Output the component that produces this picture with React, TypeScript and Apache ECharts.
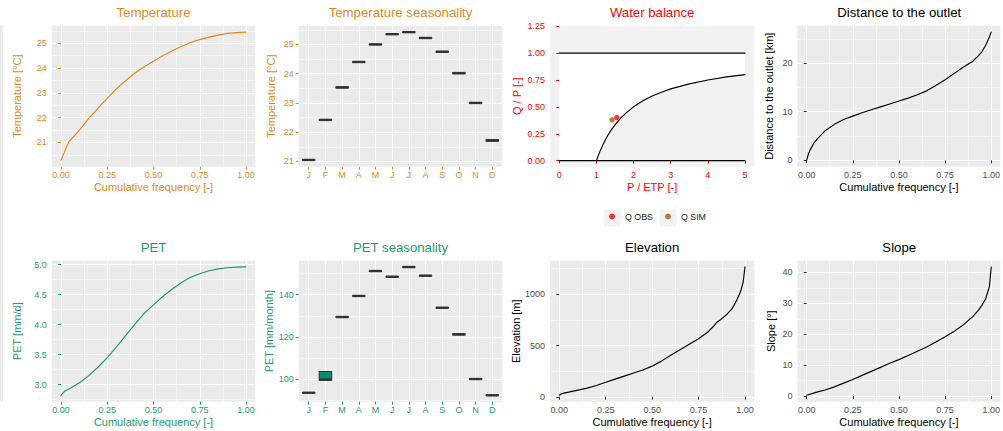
import React, { useEffect, useRef } from "react";
import * as echarts from "echarts";

// ---------------- data ----------------
const months = ["J", "F", "M", "A", "M", "J", "J", "A", "S", "O", "N", "D"];
const monthPos = [1, 2, 3, 4, 5, 6, 7, 8, 9, 10, 11, 12];

const freqTicks = [0, 0.25, 0.5, 0.75, 1];
const freqMinor = [0.125, 0.375, 0.625, 0.875];

// Temperature CDF
const tempFreq = [0, 0.04, 0.1, 0.15, 0.2, 0.25, 0.3, 0.35, 0.4, 0.45, 0.5, 0.55, 0.6, 0.65, 0.7, 0.75, 0.8, 0.85, 0.9, 0.95, 1.0];
const tempVal = [20.28, 21.0, 21.5, 21.97, 22.38, 22.78, 23.17, 23.5, 23.8, 24.05, 24.28, 24.5, 24.69, 24.87, 25.03, 25.15, 25.25, 25.33, 25.4, 25.43, 25.45];
const tempTicks = [21, 22, 23, 24, 25];
const tempMinor = [20.5, 21.5, 22.5, 23.5, 24.5, 25.5];

// Temperature seasonality
const tempMonthLow = [21.04, 22.41, 23.51, 24.39, 24.99, 25.34, 25.41, 25.21, 24.74, 24.0, 22.99, 21.69];
const tempMonthMed = [21.05, 22.42, 23.53, 24.4, 25.0, 25.35, 25.42, 25.22, 24.75, 24.02, 23.0, 21.72];
const tempMonthHigh = [21.06, 22.43, 23.55, 24.41, 25.01, 25.36, 25.43, 25.23, 24.76, 24.04, 23.01, 21.75];
const tempSeasonMinor = [21.5, 22.5, 23.5, 24.5, 25.5];

// Water balance
const wbXTicks = [0, 1, 2, 3, 4, 5];
const wbYTicks = [0, 0.25, 0.5, 0.75, 1.0, 1.25];
const budykoX = [1, 1.05, 1.1, 1.2, 1.3, 1.4, 1.5, 1.65, 1.8, 2, 2.25, 2.5, 2.75, 3, 3.5, 4, 4.5, 5];
const budykoY = [0, 0.048, 0.091, 0.167, 0.231, 0.286, 0.333, 0.394, 0.444, 0.5, 0.556, 0.6, 0.636, 0.667, 0.714, 0.75, 0.778, 0.8];
const limitX = [0, 5];
const limitLow = [0, 0];
const limitHigh = [1, 1];
const qObs = [1.55, 0.4];
const qSim = [1.42, 0.38];

// Distance to the outlet
const distFreq = [0, 0.01, 0.02, 0.04, 0.06, 0.08, 0.1, 0.15, 0.2, 0.25, 0.3, 0.35, 0.4, 0.45, 0.5, 0.55, 0.6, 0.65, 0.7, 0.75, 0.8, 0.85, 0.9, 0.93, 0.95, 0.97, 0.99, 1.0];
const distVal = [0, 1.4, 2.2, 3.6, 4.5, 5.3, 6.1, 7.4, 8.4, 9.1, 9.8, 10.4, 11.0, 11.6, 12.2, 12.8, 13.5, 14.3, 15.4, 16.6, 17.9, 19.2, 20.4, 21.5, 22.4, 23.7, 25.4, 26.4];
const distTicks = [0, 10, 20];
const distMinor = [5, 15, 25];

// PET CDF
const petFreq = [0, 0.02, 0.05, 0.1, 0.15, 0.2, 0.25, 0.3, 0.35, 0.4, 0.45, 0.5, 0.55, 0.6, 0.65, 0.7, 0.75, 0.8, 0.85, 0.9, 0.95, 1.0];
const petVal = [2.82, 2.89, 2.94, 3.03, 3.15, 3.29, 3.45, 3.63, 3.82, 4.01, 4.19, 4.33, 4.47, 4.59, 4.7, 4.79, 4.85, 4.9, 4.93, 4.95, 4.96, 4.965];
const petTicks = [3, 3.5, 4, 4.5, 5];
const petMinor = [2.75, 3.25, 3.75, 4.25, 4.75];

// PET seasonality
const petMonthLow = [93.4, 99.4, 129.3, 139.3, 151.1, 148.4, 153.0, 148.9, 133.7, 120.9, 99.9, 92.2];
const petMonthMed = [93.5, 99.7, 129.4, 139.4, 151.2, 148.5, 153.1, 149.0, 133.8, 121.2, 100.0, 92.3];
const petMonthHigh = [93.6, 103.6, 129.5, 139.5, 151.3, 148.6, 153.2, 149.1, 133.9, 121.5, 100.1, 92.4];
const petSeasonTicks = [100, 120, 140];
const petSeasonMinor = [90, 110, 130, 150];

// Elevation
const elevFreq = [0, 0.01, 0.03, 0.05, 0.1, 0.15, 0.2, 0.25, 0.3, 0.35, 0.4, 0.45, 0.5, 0.55, 0.6, 0.65, 0.7, 0.75, 0.8, 0.83, 0.85, 0.87, 0.9, 0.93, 0.95, 0.97, 0.98, 0.99, 1.0];
const elevVal = [15, 28, 38, 45, 65, 85, 110, 142, 172, 202, 232, 262, 299, 348, 405, 458, 512, 566, 632, 688, 730, 755, 800, 860, 922, 1000, 1050, 1120, 1268];
const elevTicks = [0, 500, 1000];
const elevMinor = [250, 750, 1250];

// Slope
const slopeFreq = [0, 0.05, 0.1, 0.15, 0.2, 0.25, 0.3, 0.35, 0.4, 0.45, 0.5, 0.55, 0.6, 0.65, 0.7, 0.75, 0.8, 0.85, 0.9, 0.93, 0.95, 0.97, 0.98, 0.99, 1.0];
const slopeVal = [0.3, 1.2, 2.0, 3.0, 4.2, 5.4, 6.7, 8.0, 9.3, 10.6, 11.8, 13.1, 14.5, 15.9, 17.5, 19.2, 21.0, 23.1, 25.7, 27.7, 29.4, 31.5, 33.5, 35.3, 41.7];
const slopeTicks = [0, 10, 20, 30, 40];
const slopeMinor = [5, 15, 25, 35];

// ---------------- styling ----------------
const FONT = '"Liberation Sans", Arial, Helvetica, sans-serif';
const ORANGE = "#E5861A";
const GREEN = "#1B9A73";
const RED = "#FF0000";
const SIMCOL = "#A85C0A";
const GREY_LAB = "#4D4D4D";
const BLACK = "#000000";
const PANEL = "#EBEBEB";

const zip = (xs: number[], ys: number[]) => xs.map((x, i) => [x, ys[i]]);

const fmtFixed = (d: number) => (v: number) => Number(v).toFixed(d);
const fmtMonth = (v: number) => months[Math.round(v) - 1] ?? "";

type G = { left: number; top: number; width: number; height: number };
const grids: G[] = [
  { left: 51.75, top: 25.7, width: 203.5, height: 141 },
  { left: 298.7, top: 25.7, width: 203.6, height: 141 },
  { left: 550.0, top: 25.7, width: 204.3, height: 141 },
  { left: 797.45, top: 25.7, width: 203.5, height: 141 },
  { left: 51.75, top: 260.7, width: 203.5, height: 141 },
  { left: 298.7, top: 260.7, width: 203.6, height: 141 },
  { left: 550.0, top: 260.7, width: 204.3, height: 141 },
  { left: 797.45, top: 260.7, width: 203.5, height: 141 },
];

function mainAxis(
  dim: "x" | "y",
  gridIndex: number,
  min: number,
  max: number,
  ticks: number[],
  fmt: (v: number) => string,
  labColor: string,
  tickColor: string,
  name: string,
  nameColor: string,
  nameGap: number,
  split: boolean
) {
  return {
    type: "value",
    gridIndex,
    min,
    max,
    position: dim === "x" ? "bottom" : "left",
    axisLine: { show: false },
    axisTick: { show: true, length: 3, customValues: ticks, lineStyle: { color: tickColor, width: 1 } },
    axisLabel: {
      show: true,
      customValues: ticks,
      formatter: fmt,
      color: labColor,
      fontSize: 9,
      fontFamily: FONT,
      margin: dim === "x" ? 4 : 5,
    },
    splitLine: { show: split, lineStyle: { color: "#FFFFFF", width: 1.1 } },
    name,
    nameLocation: "middle",
    nameGap,
    nameTextStyle: { color: nameColor, fontSize: 11, fontFamily: FONT },
  };
}

function minorAxis(dim: "x" | "y", gridIndex: number, min: number, max: number, ticks: number[]) {
  return {
    type: "value",
    gridIndex,
    min,
    max,
    position: dim === "x" ? "top" : "right",
    axisLine: { show: false },
    axisTick: { show: false, customValues: ticks },
    axisLabel: { show: false, customValues: ticks },
    splitLine: { show: true, lineStyle: { color: "#FFFFFF", width: 0.55 } },
  };
}

const FX = [-0.05, 1.05];
const MX = [0.4, 12.6];

const xAxes: any[] = [
  mainAxis("x", 0, FX[0], FX[1], freqTicks, fmtFixed(2), ORANGE, ORANGE, "Cumulative frequency [-]", ORANGE, 15, true),
  mainAxis("x", 1, MX[0], MX[1], monthPos, fmtMonth, ORANGE, ORANGE, "", ORANGE, 15, true),
  mainAxis("x", 2, -0.25, 5.25, wbXTicks, fmtFixed(0), RED, RED, "P / ETP [-]", RED, 15, false),
  mainAxis("x", 3, FX[0], FX[1], freqTicks, fmtFixed(2), GREY_LAB, "#333333", "Cumulative frequency [-]", BLACK, 15, true),
  mainAxis("x", 4, FX[0], FX[1], freqTicks, fmtFixed(2), GREEN, GREEN, "Cumulative frequency [-]", GREEN, 15, true),
  mainAxis("x", 5, MX[0], MX[1], monthPos, fmtMonth, GREEN, GREEN, "", GREEN, 15, true),
  mainAxis("x", 6, FX[0], FX[1], freqTicks, fmtFixed(2), GREY_LAB, "#333333", "Cumulative frequency [-]", BLACK, 15, true),
  mainAxis("x", 7, FX[0], FX[1], freqTicks, fmtFixed(2), GREY_LAB, "#333333", "Cumulative frequency [-]", BLACK, 15, true),
  minorAxis("x", 0, FX[0], FX[1], freqMinor),
  minorAxis("x", 3, FX[0], FX[1], freqMinor),
  minorAxis("x", 4, FX[0], FX[1], freqMinor),
  minorAxis("x", 6, FX[0], FX[1], freqMinor),
  minorAxis("x", 7, FX[0], FX[1], freqMinor),
];

const yAxes: any[] = [
  mainAxis("y", 0, 20.02, 25.71, tempTicks, fmtFixed(0), ORANGE, ORANGE, "Temperature [°C]", ORANGE, 29.5, true),
  mainAxis("y", 1, 20.82, 25.64, tempTicks, fmtFixed(0), ORANGE, ORANGE, "Temperature [°C]", ORANGE, 22.5, true),
  mainAxis("y", 2, -0.056, 1.254, wbYTicks, fmtFixed(2), RED, RED, "Q / P [-]", RED, 27.8, false),
  mainAxis("y", 3, -1.32, 27.72, distTicks, fmtFixed(0), GREY_LAB, "#333333", "Distance to the outlet [km]", BLACK, 22.9, true),
  mainAxis("y", 4, 2.715, 5.067, petTicks, fmtFixed(1), GREEN, GREEN, "PET [mm/d]", GREEN, 29.5, true),
  mainAxis("y", 5, 89.26, 156.1, petSeasonTicks, fmtFixed(0), GREEN, GREEN, "PET [mm/month]", GREEN, 22.5, true),
  mainAxis("y", 6, -48, 1328, elevTicks, fmtFixed(0), GREY_LAB, "#333333", "Elevation [m]", BLACK, 27.8, true),
  mainAxis("y", 7, -1.8, 43.77, slopeTicks, fmtFixed(0), GREY_LAB, "#333333", "Slope [°]", BLACK, 21.3, true),
  minorAxis("y", 0, 20.02, 25.71, tempMinor),
  minorAxis("y", 1, 20.82, 25.64, tempSeasonMinor),
  minorAxis("y", 3, -1.32, 27.72, distMinor),
  minorAxis("y", 4, 2.715, 5.067, petMinor),
  minorAxis("y", 5, 89.26, 156.1, petSeasonMinor),
  minorAxis("y", 6, -48, 1328, elevMinor),
  minorAxis("y", 7, -1.8, 43.77, slopeMinor),
];

const lineSeries = (idx: number, xs: number[], ys: number[], color: string, width = 1.15) => ({
  type: "line",
  xAxisIndex: idx,
  yAxisIndex: idx,
  data: zip(xs, ys),
  symbol: "none",
  showSymbol: false,
  silent: true,
  smooth: false,
  lineStyle: { color, width, join: "round", cap: "round" },
  itemStyle: { color },
  z: 3,
});

const HALF = 0.37;
const crossbar = (idx: number, low: number[], med: number[], high: number[], fill: string) => ({
  type: "custom",
  xAxisIndex: idx,
  yAxisIndex: idx,
  silent: true,
  z: 3,
  data: monthPos.map((m, i) => [m, low[i], med[i], high[i]]),
  encode: { x: 0, y: [1, 2, 3] },
  renderItem: (params: any, api: any) => {
    const x = api.value(0);
    const lo = api.value(1);
    const md = api.value(2);
    const hi = api.value(3);
    const p1 = api.coord([x - HALF, hi]);
    const p2 = api.coord([x + HALF, lo]);
    const m1 = api.coord([x - HALF, md]);
    const m2 = api.coord([x + HALF, md]);
    return {
      type: "group",
      children: [
        {
          type: "rect",
          shape: { x: p1[0], y: p1[1], width: p2[0] - p1[0], height: Math.max(p2[1] - p1[1], 0) },
          style: { fill, stroke: "#333333", lineWidth: 1.1 },
        },
        {
          type: "line",
          shape: { x1: m1[0], y1: m1[1], x2: m2[0], y2: m2[1] },
          style: { stroke: "#333333", lineWidth: 2.4 },
        },
      ],
    };
  },
});

const wbPolyX = [0, ...budykoX, 5, 0];
const wbPolyY = [0, ...budykoY, 1, 1];

const series: any[] = [
  lineSeries(0, tempFreq, tempVal, ORANGE),
  crossbar(1, tempMonthLow, tempMonthMed, tempMonthHigh, ORANGE),
  {
    type: "custom",
    xAxisIndex: 2,
    yAxisIndex: 2,
    silent: true,
    z: 1,
    data: zip(wbPolyX, wbPolyY),
    renderItem: (params: any, api: any) => {
      if (params.dataIndex !== 0) return { type: "group", children: [] };
      const pts = wbPolyX.map((x, i) => api.coord([x, wbPolyY[i]]));
      return { type: "polygon", shape: { points: pts }, style: { fill: "#FFFFFF" } };
    },
  },
  lineSeries(2, limitX, limitHigh, "#000000", 1.3),
  lineSeries(2, limitX, limitLow, "#000000", 1.3),
  lineSeries(2, budykoX, budykoY, "#000000"),
  {
    type: "scatter",
    name: "Q OBS",
    xAxisIndex: 2,
    yAxisIndex: 2,
    data: [qObs],
    symbol: "circle",
    symbolSize: 5.5,
    itemStyle: { color: RED },
    z: 5,
  },
  {
    type: "scatter",
    name: "Q SIM",
    xAxisIndex: 2,
    yAxisIndex: 2,
    data: [qSim],
    symbol: "circle",
    symbolSize: 5.5,
    itemStyle: { color: SIMCOL },
    z: 5,
  },
  lineSeries(3, distFreq, distVal, "#000000"),
  lineSeries(4, petFreq, petVal, GREEN),
  crossbar(5, petMonthLow, petMonthMed, petMonthHigh, "#0E8C68"),
  lineSeries(6, elevFreq, elevVal, "#000000"),
  lineSeries(7, slopeFreq, slopeVal, "#000000"),
];

const titleDef = (text: string, g: G, y: number, color: string) => ({
  text,
  left: g.left + g.width / 2,
  top: y,
  textAlign: "center",
  padding: 0,
  textStyle: { color, fontSize: 13.2, fontWeight: "normal", fontFamily: FONT },
});

const legendDef = (name: string, left: number) => ({
  data: [name],
  left,
  top: 212,
  padding: 0,
  itemWidth: 6,
  itemHeight: 6,
  icon: "circle",
  selectedMode: false,
  textStyle: { color: "#1A1A1A", fontSize: 8.8, fontFamily: FONT, padding: [0, 0, 0, 5] },
});

const option: any = {
  animation: false,
  backgroundColor: "#FFFFFF",
  title: [
    titleDef("Temperature", grids[0], 6, ORANGE),
    titleDef("Temperature seasonality", grids[1], 6, ORANGE),
    titleDef("Water balance", grids[2], 6, RED),
    titleDef("Distance to the outlet", grids[3], 6, BLACK),
    titleDef("PET", grids[4], 241, GREEN),
    titleDef("PET seasonality", grids[5], 241, GREEN),
    titleDef("Elevation", grids[6], 241, BLACK),
    titleDef("Slope", grids[7], 241, BLACK),
  ],
  grid: grids.map((g, i) => ({
    ...g,
    show: true,
    backgroundColor: i === 2 ? "#F2F2F2" : PANEL,
    borderWidth: 0,
    containLabel: false,
  })),
  xAxis: xAxes,
  yAxis: yAxes,
  legend: [legendDef("Q OBS", 609), legendDef("Q SIM", 665)],
  graphic: [
    { type: "rect", left: 0, top: 25, shape: { width: 3, height: 377 }, style: { fill: PANEL }, silent: true },
    { type: "rect", left: 603.5, top: 209.5, shape: { width: 17, height: 17 }, style: { fill: "#F2F2F2" }, silent: true, z: -1 },
    { type: "rect", left: 659.5, top: 209.5, shape: { width: 17, height: 17 }, style: { fill: "#F2F2F2" }, silent: true, z: -1 },
  ],
  series,
};

export default function App() {
  const ref = useRef<HTMLDivElement>(null);
  useEffect(() => {
    if (!ref.current) return;
    const chart = echarts.init(ref.current, null, { renderer: "svg" });
    chart.setOption(option);
    return () => chart.dispose();
  }, []);
  return (
    <div
      ref={ref}
      style={{ position: "absolute", left: 0, top: 0, width: 1003, height: 431, background: "#FFFFFF" }}
    />
  );
}
